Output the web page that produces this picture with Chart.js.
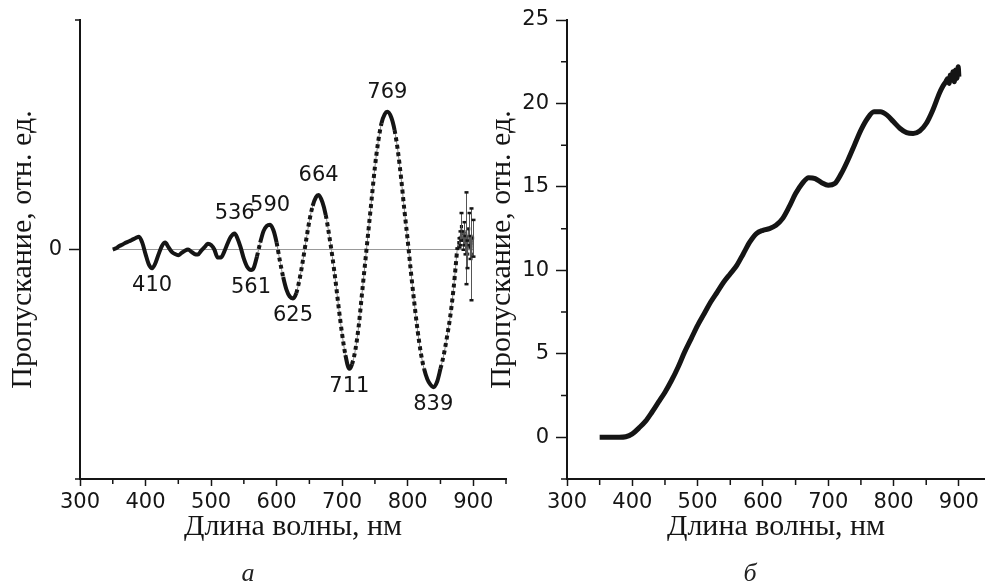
<!DOCTYPE html>
<html lang="ru">
<head>
<meta charset="utf-8">
<title>Пропускание</title>
<script src="https://cdn.jsdelivr.net/npm/chart.js@4.4.1/dist/chart.umd.min.js"></script>
<style>
  html, body { margin: 0; padding: 0; background: #fff; overflow: hidden; }
  body { width: 985px; height: 585px; position: relative; }
  canvas { position: absolute; top: 0; }
  #chartA { left: 0; }
  #chartB { left: 480px; }
  .tag { position: absolute; font: italic 26px "Liberation Serif", serif; color: #222; transform: translate(-50%, -50%); }
</style>
</head>
<body>
<canvas id="chartA" width="512" height="585"></canvas>
<canvas id="chartB" width="505" height="585"></canvas>
<div class="tag" style="left:248px; top:573px">а</div>
<div class="tag" style="left:750px; top:573px">б</div>
<script>
// panel a: difference spectrum
const waveA = [350, 355, 360, 365, 370, 375, 380, 385, 390, 395, 400, 405, 410, 415, 420, 425, 430, 435, 440, 445,
  450, 455, 460, 465, 470, 475, 480, 485, 490, 495, 500, 505, 510, 515, 520, 525, 530, 536, 540, 545,
  550, 555, 561, 565, 570, 575, 580, 585, 590, 595, 600, 605, 610, 615, 620, 625, 630, 635, 640, 645,
  650, 655, 660, 664, 670, 675, 680, 685, 690, 695, 700, 705, 711, 715, 720, 725, 730, 735, 740, 745,
  750, 755, 760, 765, 769, 775, 780, 785, 790, 795, 800, 805, 810, 815, 820, 825, 830, 835, 839, 845,
  850, 855, 860, 865, 870, 873, 876];
const transA = [0.000, 0.005, 0.015, 0.022, 0.030, 0.036, 0.043, 0.050, 0.056, 0.030, -0.020, -0.065, -0.082, -0.060, -0.020, 0.015, 0.030, 0.010, -0.010, -0.020,
  -0.025, -0.015, -0.005, 0.000, -0.010, -0.020, -0.022, -0.005, 0.010, 0.025, 0.020, 0.000, -0.035, -0.035, -0.010, 0.025, 0.055, 0.070, 0.050, 0.010,
  -0.040, -0.075, -0.089, -0.080, -0.030, 0.030, 0.080, 0.103, 0.108, 0.085, 0.030, -0.050, -0.120, -0.175, -0.205, -0.213, -0.190, -0.130, -0.050, 0.040,
  0.125, 0.190, 0.228, 0.237, 0.205, 0.150, 0.065, -0.030, -0.140, -0.260, -0.370, -0.460, -0.520, -0.500, -0.440, -0.340, -0.200, -0.060, 0.080, 0.220,
  0.360, 0.470, 0.550, 0.590, 0.600, 0.575, 0.520, 0.430, 0.310, 0.170, 0.040, -0.100, -0.230, -0.350, -0.450, -0.520, -0.565, -0.590, -0.600, -0.575,
  -0.520, -0.460, -0.380, -0.290, -0.170, -0.080, 0.010];
// noisy end of the spectrum, with error bars
const tailWaveA = [878, 880, 882, 884, 886, 888, 889, 891, 893, 895, 897, 899];
const tailTransA = [0.03, 0.05, 0.10, 0.04, 0.07, 0.02, 0.05, -0.02, 0.09, 0.01, -0.02, 0.05];
const tailErrA = [0.02, 0.03, 0.06, 0.04, 0.05, 0.04, 0.20, 0.06, 0.07, 0.05, 0.20, 0.08];
const baseWaveA = [350, 900];
const baseLevelA = [0, 0];
const peakWaves = [410, 536, 561, 590, 625, 664, 711, 769, 839];

// panel b: transmission spectrum
const waveB = [350, 360, 370, 380, 390, 400, 410, 420, 430, 440, 450, 460, 470, 480, 490, 500, 510, 520, 530, 540,
  550, 560, 570, 580, 590, 600, 610, 620, 630, 640, 650, 660, 670, 680, 690, 700, 710, 720, 730, 740,
  750, 760, 770, 780, 790, 800, 810, 820, 830, 840, 850, 860, 870, 875, 880, 883, 885, 887, 889, 891,
  893, 895, 897, 899, 900];
const transB = [0, 0, 0, 0, 0.03, 0.2, 0.55, 0.95, 1.5, 2.1, 2.7, 3.4, 4.2, 5.1, 5.9, 6.7, 7.4, 8.1, 8.7, 9.3,
  9.8, 10.3, 11.0, 11.7, 12.2, 12.4, 12.5, 12.7, 13.1, 13.8, 14.6, 15.2, 15.55, 15.5, 15.25, 15.1, 15.2, 15.8, 16.6, 17.5,
  18.4, 19.1, 19.5, 19.5, 19.3, 18.9, 18.5, 18.25, 18.2, 18.35, 18.8, 19.6, 20.6, 21.0, 21.3, 21.5, 21.2, 21.7, 21.4, 21.9,
  21.3, 22.0, 21.5, 22.2, 21.6];

const xTicks = [300, 400, 500, 600, 700, 800, 900];
const xMinorA = [350, 450, 550, 650, 750, 850, 950];
const xMinorB = [350, 450, 550, 650, 750, 850];
const yTicksA = [0];
const yMinorA = [-1, 1];
const yTicksB = [0, 5, 10, 15, 20, 25];
const yMinorB = [-2.5, 2.5, 7.5, 12.5, 17.5, 22.5];

const INK = '#151515';
const sans = '"DejaVu Sans", "Liberation Sans", Arial, sans-serif';
const serif = '"Liberation Serif", "Times New Roman", serif';

// short unlabeled ticks between the major ones
const minorTicks = {
  id: 'minorTicks',
  afterDraw(chart, args, opts) {
    const { ctx, scales } = chart;
    ctx.save();
    ctx.strokeStyle = INK;
    ctx.lineWidth = 1.5;
    ctx.beginPath();
    opts.x.forEach(v => {
      const px = scales.x.getPixelForValue(v);
      ctx.moveTo(px, scales.x.top);
      ctx.lineTo(px, scales.x.top + opts.length);
    });
    opts.y.forEach(v => {
      const py = scales.y.getPixelForValue(v);
      ctx.moveTo(scales.y.right - opts.length, py);
      ctx.lineTo(scales.y.right, py);
    });
    ctx.stroke();
    ctx.restore();
  }
};

const errorBars = {
  id: 'errorBars',
  afterDatasetsDraw(chart) {
    const { ctx, scales: { x, y } } = chart;
    ctx.save();
    ctx.strokeStyle = '#555';
    ctx.fillStyle = INK;
    ctx.lineWidth = 1;
    tailWaveA.forEach((w, i) => {
      const px = Math.round(x.getPixelForValue(w)) + 0.5;
      const top = y.getPixelForValue(tailTransA[i] + tailErrA[i]);
      const bot = y.getPixelForValue(tailTransA[i] - tailErrA[i]);
      ctx.beginPath();
      ctx.moveTo(px, top);
      ctx.lineTo(px, bot);
      ctx.stroke();
      ctx.fillRect(px - 2, top - 1, 4, 2.5);
      ctx.fillRect(px - 2, bot - 1, 4, 2.5);
    });
    ctx.restore();
  }
};

const peakLabels = {
  id: 'peakLabels',
  afterDatasetsDraw(chart) {
    const { ctx, scales: { x, y } } = chart;
    ctx.save();
    ctx.font = '21px ' + sans;
    ctx.fillStyle = INK;
    ctx.textAlign = 'center';
    peakWaves.forEach(w => {
      const v = transA[waveA.indexOf(w)];
      const px = x.getPixelForValue(w);
      const py = y.getPixelForValue(v);
      if (v > 0) {
        ctx.textBaseline = 'bottom';
        ctx.fillText(String(w), px, py - 9);
      } else {
        ctx.textBaseline = 'top';
        ctx.fillText(String(w), px, py + 7);
      }
    });
    ctx.restore();
  }
};

function xAxis(max) {
  return {
    type: 'linear',
    min: 300,
    max: max,
    afterBuildTicks: s => { s.ticks = xTicks.map(v => ({ value: v })); },
    afterFit: s => { s.height = 106; },
    border: { color: INK, width: 2 },
    grid: { drawOnChartArea: false, tickLength: 7, color: INK, tickWidth: 1.5 },
    ticks: { color: INK, font: { family: sans, size: 21 }, padding: 4, maxRotation: 0, autoSkip: false },
    title: {
      display: true, text: 'Длина волны, нм', color: INK,
      font: { family: serif, size: 30, lineHeight: 1 }, padding: { top: 0, bottom: 43 }
    }
  };
}

function yAxis(min, max, ticks, width, titlePad) {
  return {
    type: 'linear',
    min: min,
    max: max,
    afterBuildTicks: s => { s.ticks = ticks.map(v => ({ value: v })); },
    afterFit: s => { s.width = width; },
    border: { color: INK, width: 2 },
    grid: { drawOnChartArea: false, tickLength: 11, color: INK, tickWidth: 1.5 },
    ticks: { color: INK, font: { family: sans, size: 21 }, padding: 7 },
    title: {
      display: true, text: 'Пропускание, отн. ед.', color: INK,
      font: { family: serif, size: 30, lineHeight: 1 }, padding: { top: titlePad, bottom: 0 }
    }
  };
}

const mainLen = waveA.length;
const seriesA = waveA.map((w, i) => ({ x: w, y: transA[i] }))
  .concat(tailWaveA.map((w, i) => ({ x: w, y: tailTransA[i] })));
const inTail = c => c.p0DataIndex >= mainLen - 1;
const steep = c => Math.abs(c.p1.y - c.p0.y) > 4 * Math.abs(c.p1.x - c.p0.x);

new Chart(document.getElementById('chartA'), {
  type: 'line',
  data: {
    datasets: [
      {
        data: seriesA,
        borderColor: INK,
        borderWidth: 4,
        cubicInterpolationMode: 'monotone',
        pointRadius: c => c.dataIndex >= mainLen ? 2.2 : 0,
        pointStyle: 'rect',
        pointBackgroundColor: INK,
        pointBorderWidth: 0,
        segment: {
          borderDash: c => inTail(c) ? [] : (steep(c) ? [4, 3.5] : undefined),
          borderColor: c => inTail(c) ? '#555' : undefined,
          borderWidth: c => inTail(c) ? 1 : undefined
        }
      },
      {
        data: seriesA,
        borderColor: '#888',
        borderWidth: 1,
        cubicInterpolationMode: 'monotone',
        pointRadius: 0
      },
      {
        data: baseWaveA.map((w, i) => ({ x: w, y: baseLevelA[i] })),
        borderColor: '#999',
        borderWidth: 1.2,
        pointRadius: 0
      }
    ]
  },
  options: {
    responsive: false,
    animation: false,
    layout: { padding: { top: 20, right: 6, left: 0, bottom: 0 } },
    plugins: {
      legend: { display: false },
      tooltip: { enabled: false },
      minorTicks: { x: xMinorA, y: yMinorA, length: 5 }
    },
    scales: {
      x: xAxis(950),
      y: yAxis(-1, 1, yTicksA, 80, 8)
    }
  },
  plugins: [minorTicks, errorBars, peakLabels]
});

new Chart(document.getElementById('chartB'), {
  type: 'line',
  data: {
    datasets: [{
      data: waveB.map((w, i) => ({ x: w, y: transB[i] })),
      borderColor: INK,
      borderWidth: 5,
      cubicInterpolationMode: 'monotone',
      pointRadius: 0
    }]
  },
  options: {
    responsive: false,
    animation: false,
    layout: { padding: { top: 20, right: 0, left: 0, bottom: 0 } },
    plugins: {
      legend: { display: false },
      tooltip: { enabled: false },
      minorTicks: { x: xMinorB, y: yMinorB, length: 6 }
    },
    scales: {
      x: xAxis(940),
      y: yAxis(-2.5, 25, yTicksB, 87, 7)
    }
  },
  plugins: [minorTicks]
});
</script>
</body>
</html>
